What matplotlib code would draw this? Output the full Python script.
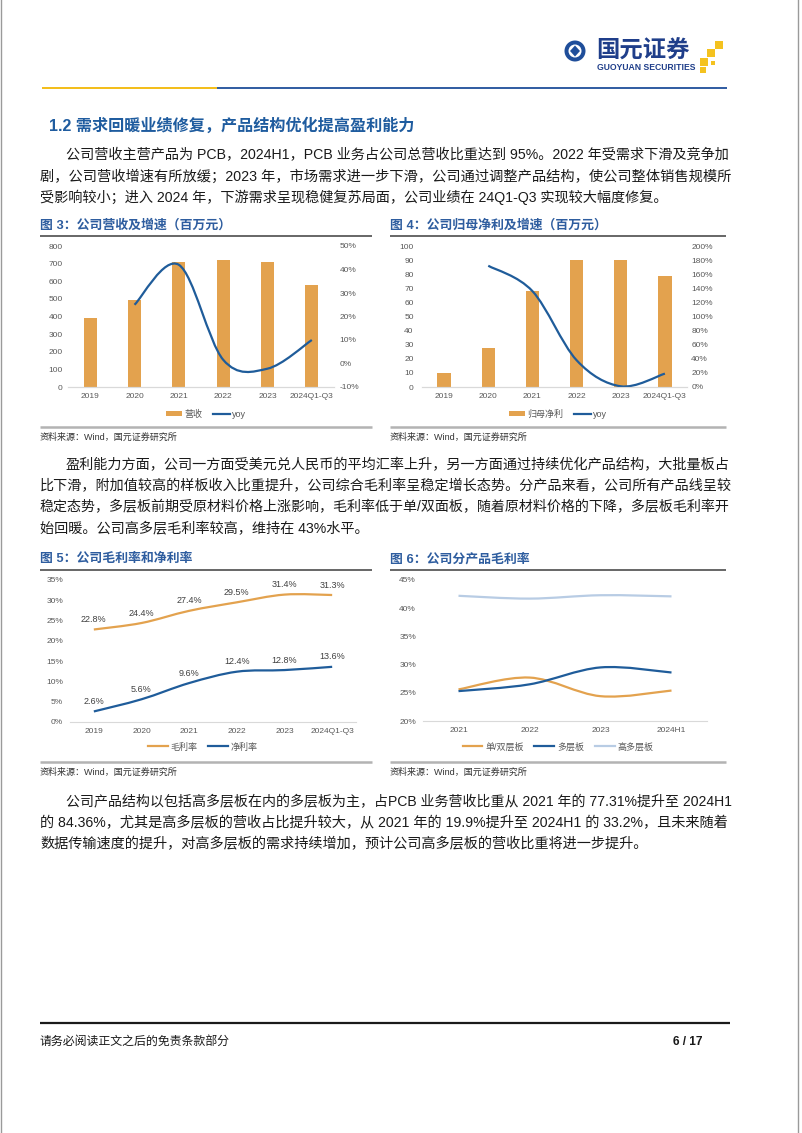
import numpy as np
import matplotlib
matplotlib.use('Agg')
import matplotlib.pyplot as plt
from matplotlib.transforms import Affine2D
from matplotlib.lines import Line2D
from matplotlib.path import Path
from matplotlib.patches import PathPatch, Circle, Rectangle, Patch, Polygon
from matplotlib.ticker import PercentFormatter

# ---------------- data ----------------
years6 = ['2019', '2020', '2021', '2022', '2023', '2024Q1-Q3']
revenue = [393, 494, 708, 723, 710, 578]
revenue_yoy = [np.nan, 0.25, 0.42, 0.016, -0.022, 0.10]
profit = [9.9, 27.6, 67.9, 90.1, 90.3, 79.0]
profit_yoy = [np.nan, 1.72, 1.36, 0.38, 0.01, 0.19]
gross_margin = [0.228, 0.244, 0.274, 0.295, 0.314, 0.313]
net_margin = [0.026, 0.056, 0.096, 0.124, 0.128, 0.136]
years4 = ['2021', '2022', '2023', '2024H1']
gm_single = [0.256, 0.277, 0.244, 0.254]
gm_multi = [0.253, 0.265, 0.295, 0.286]
gm_high = [0.422, 0.417, 0.423, 0.421]

heading = '1.2 需求回暖业绩修复，产品结构优化提高盈利能力'
para1 = ['公司营收主营产品为 PCB，2024H1，PCB 业务占公司总营收比重达到 95%。2022 年受需求下滑及竞争加',
         '剧，公司营收增速有所放缓；2023 年，市场需求进一步下滑，公司通过调整产品结构，使公司整体销售规模所',
         '受影响较小；进入 2024 年，下游需求呈现稳健复苏局面，公司业绩在 24Q1-Q3 实现较大幅度修复。']
para2 = ['盈利能力方面，公司一方面受美元兑人民币的平均汇率上升，另一方面通过持续优化产品结构，大批量板占',
         '比下滑，附加值较高的样板收入比重提升，公司综合毛利率呈稳定增长态势。分产品来看，公司所有产品线呈较',
         '稳定态势，多层板前期受原材料价格上涨影响，毛利率低于单/双面板，随着原材料价格的下降，多层板毛利率开',
         '始回暖。公司高多层毛利率较高，维持在 43%水平。']
para3 = ['公司产品结构以包括高多层板在内的多层板为主，占PCB 业务营收比重从 2021 年的 77.31%提升至 2024H1',
         '的 84.36%，尤其是高多层板的营收占比提升较大，从 2021 年的 19.9%提升至 2024H1 的 33.2%，且未来随着',
         '数据传输速度的提升，对高多层板的需求持续增加，预计公司高多层板的营收比重将进一步提升。']
titles = ['图 3：公司营收及增速（百万元）', '图 4：公司归母净利及增速（百万元）',
          '图 5：公司毛利率和净利率', '图 6：公司分产品毛利率']
source = '资料来源：Wind，国元证券研究所'
footer = '请务必阅读正文之后的免责条款部分'
page = '6 / 17'

# ---------------- style ----------------
W, H = 802, 1133
plt.rcParams['font.family'] = ['Liberation Sans', 'Noto Sans CJK SC']
plt.rcParams['axes.unicode_minus'] = False
ORANGE = '#E3A24E'
BLUE = '#1F5C9A'
LIGHT = '#B8CCE4'
HEAD = '#1F5C9F'
TICK = '#595959'

fig = plt.figure(figsize=(W / 100, H / 100), dpi=100)
T = Affine2D().scale(1 / W, -1 / H).translate(0, 1) + fig.transFigure
renderer = fig.canvas.get_renderer()


def px(l, t, r, b):
    return [l / W, 1 - b / H, (r - l) / W, (b - t) / H]


def hline(x0, x1, y, color, lw):
    fig.add_artist(Line2D([x0, x1], [y, y], transform=T, color=color, lw=lw, solid_capstyle='butt'))


def smooth_path(xs, ys):
    P = np.array([(x, y) for x, y in zip(xs, ys) if not np.isnan(y)], float)
    n = len(P)
    verts = [P[0]]
    codes = [Path.MOVETO]
    for i in range(n - 1):
        p0 = P[i - 1] if i > 0 else P[i]
        p1, p2 = P[i], P[i + 1]
        p3 = P[i + 2] if i + 2 < n else P[i + 1]
        verts += [p1 + (p2 - p0) / 6, p2 - (p3 - p1) / 6, p2]
        codes += [Path.CURVE4] * 3
    return Path(verts, codes)


def style(ax):
    for s in ['left', 'right', 'top']:
        ax.spines[s].set_visible(False)
    ax.spines['bottom'].set_color('#D9D9D9')
    ax.tick_params(length=0, labelsize=6, colors=TICK, pad=4)
    ax.patch.set_alpha(0)


# page borders
fig.add_artist(Line2D([1, 1], [0, H], transform=T, color='#9A9A9A', lw=1))
fig.add_artist(Line2D([798, 798], [0, H], transform=T, color='#9A9A9A', lw=1))

# ---------------- header ----------------
fig.add_artist(Circle((575, 51), 10.5, transform=T, fc='#1F4E9A', ec='none'))
fig.add_artist(Circle((575, 51), 6.5, transform=T, fc='white', ec='none'))
fig.add_artist(Polygon([(575, 45.5), (580, 51), (575, 56.5), (570, 51)], transform=T, fc='#1F4E9A', ec='none'))
fig.text(596, 51, '国元证券', transform=T, fontsize=16.8, fontweight='bold', color='#1F3E8A',
         family=['Noto Sans CJK SC'], va='center', ha='left')
fig.text(597, 67, 'GUOYUAN SECURITIES', transform=T, fontsize=6.2, fontweight='bold', color='#1F3E8A',
         va='center', ha='left')
for (x, y, s) in [(715, 41, 8), (707, 49, 8), (700, 58, 8), (700, 67, 6), (711, 61, 4)]:
    fig.add_artist(Rectangle((x, y), s, s, transform=T, fc='#F4C21F', ec='none'))
hline(42, 217, 88, '#F2B705', 1.3)
hline(217, 727, 88, '#1F4E9A', 1.3)

# ---------------- heading and paragraphs ----------------
fig.text(49, 126, heading, transform=T, fontsize=11.6, fontweight='bold', color=HEAD, va='center', ha='left')

BODY = 10.2
RIGHT = 728


def paragraph(lines, y0, step=21.3):
    for i, s in enumerate(lines):
        x = 66 if i == 0 else 40
        t = fig.text(x, y0 + i * step, s, transform=T, fontsize=BODY, color='#1A1A1A', va='center', ha='left')
        if i < len(lines) - 1:
            w = t.get_window_extent(renderer).width
            t.set_fontsize(BODY * (RIGHT - x) / w)


paragraph(para1, 155)
paragraph(para2, 465)
paragraph(para3, 802)

# ---------------- chart frames ----------------
for (x0, x1, yt, yb, t) in [(40, 372, 236, 427, titles[0]), (390, 726, 236, 427, titles[1]),
                            (40, 372, 570, 762, titles[2]), (390, 726, 570, 762, titles[3])]:
    fig.text(x0, yt - 11, t, transform=T, fontsize=9.3, fontweight='bold', color='#2E5D9F',
             va='center', ha='left')
    hline(x0, x1, yt, '#4D4D4D', 1.2)
    hline(x0, x1, yb, '#B3B3B3', 1.8)
    fig.text(x0, yb + 10.5, source, transform=T, fontsize=6.5, color='#333333', va='center', ha='left')

x6 = np.arange(len(years6))
x4 = np.arange(len(years4))

# ---- chart 3 ----
ax3 = fig.add_axes(px(68, 246, 334, 387))
ax3.bar(x6, revenue, width=0.3, color=ORANGE)
ax3.set_xlim(-0.5, 5.5)
ax3.set_ylim(0, 800)
ax3.set_yticks(np.arange(0, 801, 100))
ax3.set_xticks(x6, years6)
style(ax3)
ax3r = ax3.twinx()
ax3r.set_ylim(-0.1, 0.5)
ax3r.set_yticks(np.arange(-0.1, 0.501, 0.1))
ax3r.yaxis.set_major_formatter(PercentFormatter(1.0, decimals=0))
style(ax3r)
ax3r.add_patch(PathPatch(smooth_path(x6, revenue_yoy), fill=False, ec=BLUE, lw=1.6))
ax3.legend([Patch(fc=ORANGE), Line2D([], [], color=BLUE, lw=1.6)], ['营收', 'yoy'],
           loc='center', bbox_to_anchor=(206, 414), bbox_transform=T, ncol=2, frameon=False,
           fontsize=6.5, handlelength=1.8, handleheight=0.6, columnspacing=1.2, handletextpad=0.3,
           labelcolor=TICK)

# ---- chart 4 ----
ax4 = fig.add_axes(px(422, 246, 687, 387))
ax4.bar(x6, profit, width=0.3, color=ORANGE)
ax4.set_xlim(-0.5, 5.5)
ax4.set_ylim(0, 100)
ax4.set_yticks(np.arange(0, 101, 10))
ax4.set_xticks(x6, years6)
style(ax4)
ax4.tick_params(axis='y', pad=6)
ax4r = ax4.twinx()
ax4r.set_ylim(0, 2.0)
ax4r.set_yticks(np.arange(0, 2.001, 0.2))
ax4r.yaxis.set_major_formatter(PercentFormatter(1.0, decimals=0))
style(ax4r)
ax4r.tick_params(axis='y', pad=3)
ax4r.add_patch(PathPatch(smooth_path(x6, profit_yoy), fill=False, ec=BLUE, lw=1.6))
ax4.legend([Patch(fc=ORANGE), Line2D([], [], color=BLUE, lw=1.6)], ['归母净利', 'yoy'],
           loc='center', bbox_to_anchor=(558, 414), bbox_transform=T, ncol=2, frameon=False,
           fontsize=6.5, handlelength=1.8, handleheight=0.6, columnspacing=1.2, handletextpad=0.3,
           labelcolor=TICK)

# ---- chart 5 ----
ax5 = fig.add_axes(px(70, 580, 356, 722))
ax5.add_patch(PathPatch(smooth_path(x6, gross_margin), fill=False, ec=ORANGE, lw=1.6))
ax5.add_patch(PathPatch(smooth_path(x6, net_margin), fill=False, ec=BLUE, lw=1.6))
ax5.set_xlim(-0.5, 5.5)
ax5.set_ylim(0, 0.35)
ax5.set_yticks(np.arange(0, 0.351, 0.05))
ax5.yaxis.set_major_formatter(PercentFormatter(1.0, decimals=0))
ax5.set_xticks(x6, years6)
style(ax5)
ax5.tick_params(axis='y', pad=5)
for xs, vals in [(x6, gross_margin), (x6, net_margin)]:
    for x, v in zip(xs, vals):
        ax5.annotate(f'{v * 100:.1f}%', (x, v), xytext=(0, 10), textcoords='offset pixels',
                     ha='center', va='center', fontsize=6.5, color='#404040')
ax5.legend([Line2D([], [], color=ORANGE, lw=1.6), Line2D([], [], color=BLUE, lw=1.6)], ['毛利率', '净利率'],
           loc='center', bbox_to_anchor=(203, 747), bbox_transform=T, ncol=2, frameon=False,
           fontsize=6.5, handlelength=2.2, columnspacing=1.2, handletextpad=0.3, labelcolor=TICK)

# ---- chart 6 ----
ax6 = fig.add_axes(px(423, 580, 707, 721))
for vals, c in [(gm_single, ORANGE), (gm_multi, BLUE), (gm_high, LIGHT)]:
    ax6.add_patch(PathPatch(smooth_path(x4, vals), fill=False, ec=c, lw=1.6))
ax6.set_xlim(-0.5, 3.5)
ax6.set_ylim(0.20, 0.45)
ax6.set_yticks(np.arange(0.20, 0.451, 0.05))
ax6.yaxis.set_major_formatter(PercentFormatter(1.0, decimals=0))
ax6.set_xticks(x4, years4)
style(ax6)
ax6.tick_params(axis='y', pad=5)
ax6.legend([Line2D([], [], color=c, lw=1.6) for c in (ORANGE, BLUE, LIGHT)], ['单/双层板', '多层板', '高多层板'],
           loc='center', bbox_to_anchor=(558, 747), bbox_transform=T, ncol=3, frameon=False,
           fontsize=6.5, handlelength=2.2, columnspacing=1.2, handletextpad=0.3, labelcolor=TICK)

# ---------------- footer ----------------
hline(40, 730, 1023, '#1A1A1A', 1.6)
fig.text(40, 1042, footer, transform=T, fontsize=8.6, color='#1A1A1A', va='center', ha='left')
fig.text(688, 1042, page, transform=T, fontsize=8.6, fontweight='bold', color='#1A1A1A', va='center', ha='center')

fig.savefig('out.png', dpi=100)
